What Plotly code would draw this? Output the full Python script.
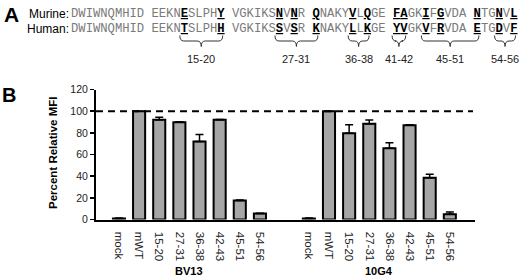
import plotly.graph_objects as go

# ---------------- data ----------------
categories = ["mock", "mWT", "15-20", "27-31", "36-38", "42-43", "45-51", "54-56"]
groups = ["BV13", "10G4"]
bv13_values = [1.0, 100.0, 92.0, 89.7, 72.0, 92.0, 17.5, 5.5]
bv13_errors = [0.3, 0.0, 2.4, 0.6, 6.4, 0.4, 0.6, 0.3]
g10g4_values = [1.0, 100.0, 79.7, 88.5, 65.7, 87.0, 38.5, 4.8]
g10g4_errors = [0.3, 0.0, 7.8, 3.3, 5.2, 0.5, 3.3, 2.2]
reference_level = 100
y_ticks = [0, 20, 40, 60, 80, 100, 120]

murine_seq = "DWIWNQMHID EEKNESLPHY VGKIKSNVNR QNAKYVLQGE FAGKIFGVDA NTGNVL"
human_seq = "DWIWNQMHID EEKNTSLPHH VGKIKSSVSR KNAKYLLKGE YVGKVFRVDA ETGDVF"
highlight_positions = [15, 20, 27, 29, 31, 36, 38, 41, 42, 45, 47, 51, 54, 56]
region_ranges = [(15, 20), (27, 31), (36, 38), (41, 42), (45, 51), (54, 56)]
region_labels = ["15-20", "27-31", "36-38", "41-42", "45-51", "54-56"]

# ---------------- layout helpers ----------------
W, H = 520, 278
def px(x):
    return x / W
def py(y):
    return 1 - y / H

SANS = "Liberation Sans, Arial, sans-serif"
MONO = "Liberation Mono, Courier New, monospace"

seq_x0 = 69.5          # pixel where sequence starts
seq_size = 12.2
char_w = seq_size * 0.6
group_offset = 9.43    # x offset of the second group
bar_w = 0.6

def seq_html(seq):
    out = []
    pos = 0
    for ch in seq:
        if ch == " ":
            out.append(" ")
            continue
        pos += 1
        if pos in highlight_positions:
            out.append('<span style="color:#000000"><b><u>%s</u></b></span>' % ch)
        else:
            out.append(ch)
    return "".join(out)

def char_index(p):
    return (p - 1) + (p - 1) // 10

fig = go.Figure()

x_bv13 = [i for i in range(len(categories))]
x_10g4 = [i + group_offset for i in range(len(categories))]

for xs, vals, errs in [(x_bv13, bv13_values, bv13_errors),
                       (x_10g4, g10g4_values, g10g4_errors)]:
    fig.add_trace(go.Bar(
        x=xs, y=vals, width=bar_w,
        marker=dict(color="#a6a6a6", line=dict(color="#000000", width=2)),
        error_y=dict(type="data", symmetric=False, array=errs,
                     arrayminus=[0] * len(errs), color="#000000",
                     thickness=1.5, width=4),
        showlegend=False, hoverinfo="skip",
    ))

x_lo, x_hi = -1.14, 17.68

fig.add_shape(type="line", xref="x", yref="y", x0=x_lo, x1=17.58,
              y0=reference_level, y1=reference_level,
              line=dict(color="#000000", width=2, dash="7px,5px"), layer="above")

def ann(text, x, y, size, family=SANS, color="#000", xanchor="center", yanchor="middle",
        xref="paper", **kw):
    return dict(text=text, x=x, y=y, xref=xref, yref="paper", xanchor=xanchor,
                yanchor=yanchor, showarrow=False, borderpad=0,
                font=dict(family=family, size=size, color=color), **kw)

annotations = []
# Panel labels
annotations.append(ann("<b>A</b>", px(11), py(14), 21))
annotations.append(ann("<b>B</b>", px(9), py(95), 20))
# Sequence rows
for label, seq, yrow in [("Murine:", murine_seq, 13.5), ("Human:", human_seq, 29)]:
    annotations.append(ann(label, px(seq_x0), py(yrow), 12, xanchor="right"))
    annotations.append(ann(seq_html(seq), px(seq_x0), py(yrow), seq_size, family=MONO,
                           color="#7a7a7a", xanchor="left"))

# Braces and region labels
top, mid, tip = 35.5, 41, 46.5
for (a, b), lab in zip(region_ranges, region_labels):
    xl = seq_x0 + char_w * char_index(a) + 0.5
    xr = seq_x0 + char_w * (char_index(b) + 1) - 0.5
    xc = (xl + xr) / 2
    r = 4
    path = ("M {x1},{y1} Q {x1},{y2} {x1r},{y2} L {xcl},{y2} Q {xc},{y2} {xc},{y3} "
            "Q {xc},{y2} {xcr},{y2} L {x2l},{y2} Q {x2},{y2} {x2},{y1}").format(
        x1=px(xl), y1=py(top), y2=py(mid), x1r=px(xl + r), xcl=px(xc - r), xc=px(xc),
        y3=py(tip), xcr=px(xc + r), x2l=px(xr - r), x2=px(xr))
    fig.add_shape(type="path", path=path, xref="paper", yref="paper",
                  line=dict(color="#333333", width=1))
    annotations.append(ann(lab, px(xc), py(59), 11, color="#222"))

# Y axis title
annotations.append(ann("<b>Percent Relative MFI</b>", px(53), py(153), 11.5, textangle=-90))
# Group labels
for g, xs in zip(groups, [x_bv13, x_10g4]):
    annotations.append(ann("<b>%s</b>" % g, sum(xs) / len(xs), 0, 11, xref="x",
                           yanchor="bottom"))

fig.update_layout(
    width=W, height=H,
    margin=dict(l=0, r=0, t=0, b=0, autoexpand=False),
    paper_bgcolor="white", plot_bgcolor="white",
    annotations=annotations,
    xaxis=dict(domain=[px(96), px(475)], range=[x_lo, x_hi],
               tickvals=x_bv13 + x_10g4, ticktext=categories + categories,
               tickangle=90, ticks="", showline=True, linecolor="#000", linewidth=2,
               showgrid=False, zeroline=False, ticklabelstandoff=8,
               tickfont=dict(family=SANS, size=11.5, color="#222")),
    yaxis=dict(domain=[py(219.5), py(89.5)], range=[0, 120], tickvals=y_ticks,
               ticks="outside", ticklen=4, tickwidth=1.5, tickcolor="#000",
               showline=True, linecolor="#000", linewidth=2, showgrid=False,
               zeroline=False, tickfont=dict(family=SANS, size=10.5, color="#222")),
)

fig.write_html("out.html", config={"displayModeBar": False, "staticPlot": True},
               post_script="document.body.style.margin='0';document.body.style.overflow='hidden';")
